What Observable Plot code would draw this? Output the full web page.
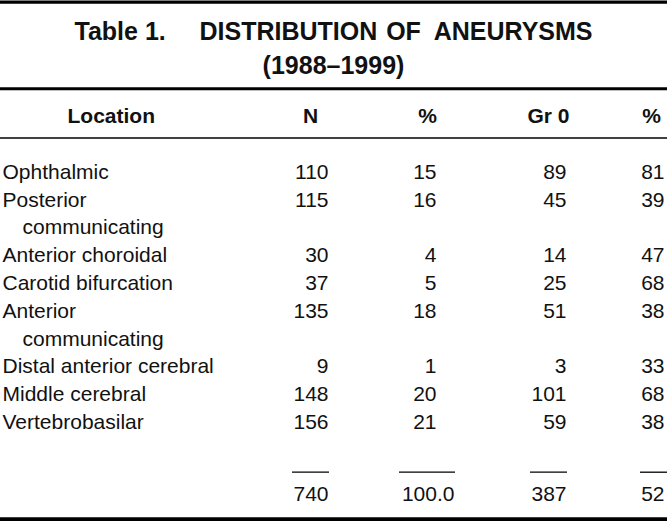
<!DOCTYPE html>
<html><head><meta charset="utf-8">
<script src="https://cdn.jsdelivr.net/npm/d3@7"></script>
<script src="https://cdn.jsdelivr.net/npm/@observablehq/plot@0.6"></script>
<style>html,body{margin:0;padding:0;background:#fff}</style>
</head><body><div id="chart"></div>
<script>
// ---- data ----
const tableLabel = "Table 1.";
const tableTitle = "DISTRIBUTION OF ANEURYSMS";
const tableSubtitle = "(1988–1999)";
const headers = ["Location", "N", "%", "Gr 0", "%"];
const locations = [
  "Ophthalmic",
  "Posterior\ncommunicating",
  "Anterior choroidal",
  "Carotid bifurcation",
  "Anterior\ncommunicating",
  "Distal anterior cerebral",
  "Middle cerebral",
  "Vertebrobasilar"
];
const counts = [110, 115, 30, 37, 135, 9, 148, 156];
const percents = [15, 16, 4, 5, 18, 1, 20, 21];
const grade0 = [89, 45, 14, 25, 51, 3, 101, 59];
const grade0Pct = [81, 39, 47, 68, 38, 33, 68, 38];
const totals = ["740", "100.0", "387", "52"];

// ---- layout ----
const W = 667, H = 521;
const FONT = "'Liberation Sans', Arial, Helvetica, sans-serif";
const INK = "#111";
const rowBase = 178.3, rowStep = 27.8;
const labelX = 2, indentX = 22;
const colRight = [328, 436, 566, 664];
const totalRight = [328, 454, 566, 664];
const headerPos = [{x: 67, a: "start"}, {x: 310, a: "middle"}, {x: 427, a: "middle"}, {x: 548, a: "middle"}, {x: 651, a: "middle"}];
const headerBase = 122;
const totalBase = 500.7;
const subRuleY = 471.7;
const subRuleSpans = [[292, 329], [399, 455], [530, 567], [640, 668]];
const fullRules = [{y: 1.6, w: 3.3}, {y: 88.3, w: 3}, {y: 137.5, w: 1.5}, {y: 519, w: 4.6}];
const titleWordPos = [{x: 199, a: "start"}, {x: 403, a: "middle"}, {x: 592, a: "end"}];

// build rows
const labelLines = [];
const cells = [];
let line = 0;
locations.forEach((name, i) => {
  const parts = name.split("\n");
  parts.forEach((p, k) => labelLines.push({text: p, x: k === 0 ? labelX : indentX, y: rowBase + (line + k) * rowStep}));
  const y = rowBase + line * rowStep;
  [counts[i], percents[i], grade0[i], grade0Pct[i]].forEach((v, c) => cells.push({text: String(v), x: colRight[c], y}));
  line += parts.length;
});
const headerCells = headers.map((h, i) => ({text: h, x: headerPos[i].x, a: headerPos[i].a, y: headerBase}));
const totalCells = totals.map((t, i) => ({text: t, x: totalRight[i], y: totalBase}));
const subRules = subRuleSpans.map(([a, b]) => ({x1: a, x2: b, y: subRuleY}));
const titleWords = tableTitle.split(" ").map((w, i) => ({text: w, x: titleWordPos[i].x, a: titleWordPos[i].a, y: 39}));

const boldTitle = {lineAnchor: "bottom", fontSize: 25, fontWeight: "bold", fill: INK};

const chart = Plot.plot({
  width: W, height: H,
  margin: 0,
  x: {domain: [0, W], range: [0, W], axis: null},
  y: {domain: [0, H], range: [0, H], axis: null},
  style: {fontFamily: FONT, background: "#fff", color: INK},
  marks: [
    Plot.ruleY(fullRules, {y: "y", x1: 0, x2: W, strokeWidth: "w", stroke: "#000"}),
    Plot.ruleY(subRules, {y: "y", x1: "x1", x2: "x2", strokeWidth: 1.3, stroke: "#000"}),
    Plot.text([tableLabel], {x: 74, y: 39, text: d => d, textAnchor: "start", ...boldTitle}),
    ...["start", "middle", "end"].map(a => Plot.text(titleWords.filter(d => d.a === a), {x: "x", y: "y", text: "text", textAnchor: a, ...boldTitle})),
    Plot.text([tableSubtitle], {x: 333, y: 73, text: d => d, textAnchor: "middle", ...boldTitle}),
    Plot.text(headerCells.filter(d => d.a === "start"), {x: "x", y: "y", text: "text", textAnchor: "start", lineAnchor: "bottom", fontSize: 21, fontWeight: "bold", fill: INK}),
    Plot.text(headerCells.filter(d => d.a === "middle"), {x: "x", y: "y", text: "text", textAnchor: "middle", lineAnchor: "bottom", fontSize: 21, fontWeight: "bold", fill: INK}),
    Plot.text(labelLines, {x: "x", y: "y", text: "text", textAnchor: "start", lineAnchor: "bottom", fontSize: 21, fill: INK}),
    Plot.text(cells, {x: "x", y: "y", text: "text", textAnchor: "end", lineAnchor: "bottom", fontSize: 21, fill: INK}),
    Plot.text(totalCells, {x: "x", y: "y", text: "text", textAnchor: "end", lineAnchor: "bottom", fontSize: 21, fill: INK})
  ]
});
document.getElementById("chart").appendChild(chart);
</script>
</body></html>
